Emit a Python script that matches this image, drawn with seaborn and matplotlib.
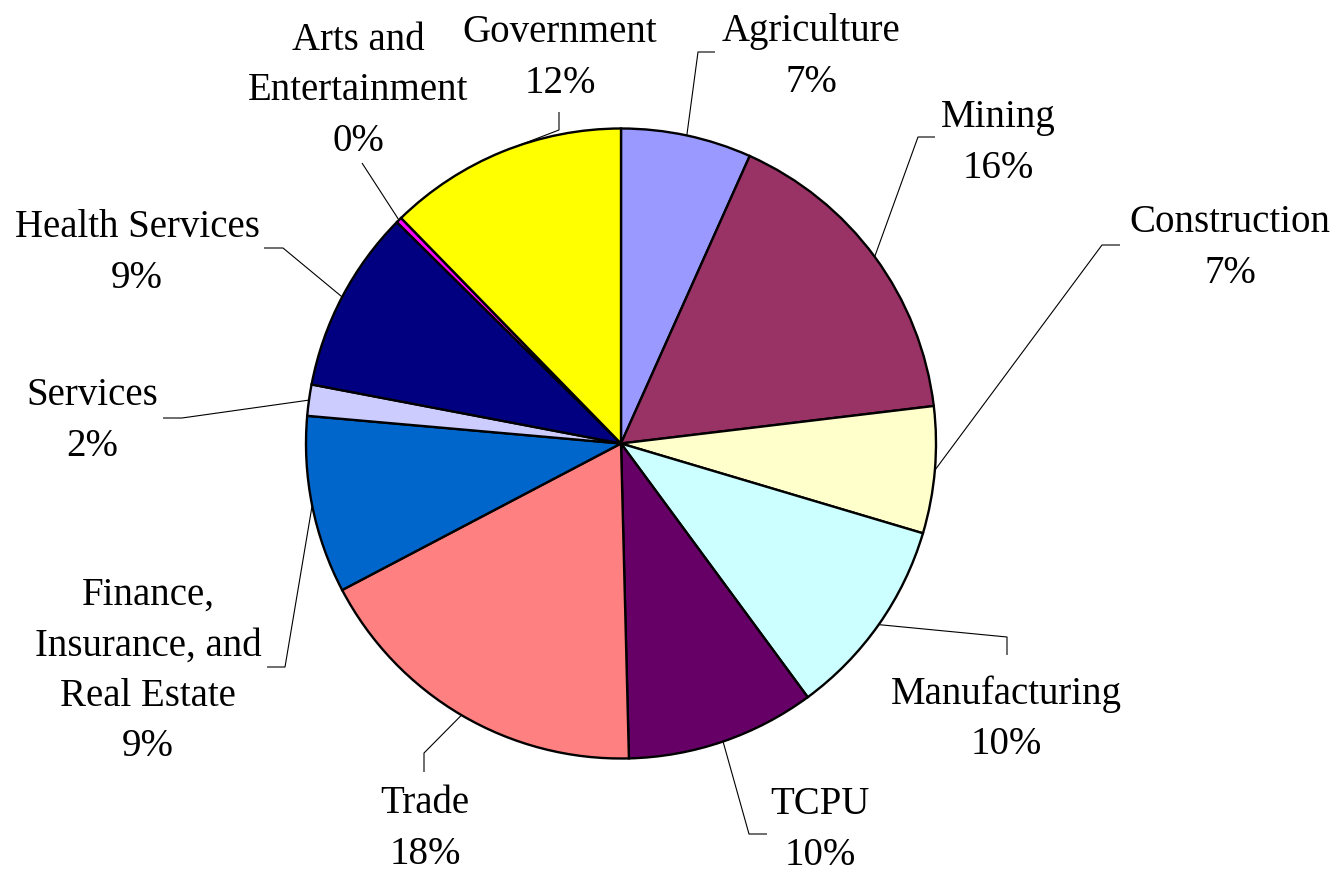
import numpy as np
import matplotlib
matplotlib.use("Agg")
import matplotlib.pyplot as plt
import seaborn as sns

# ---- data ----
categories = ["Agriculture", "Mining", "Construction", "Manufacturing", "TCPU",
              "Trade", "Finance,\nInsurance, and\nReal Estate", "Services",
              "Health Services", "Arts and\nEntertainment", "Government"]
shares = [6.7, 16.4, 6.5, 10.3, 9.7, 17.7, 9.1, 1.6, 9.4, 0.3, 12.3]
slice_colors = ["#9999FF", "#993366", "#FFFFCC", "#CCFFFF", "#660066",
                "#FF8080", "#0066CC", "#CCCCFF", "#000080", "#FF00FF", "#FFFF00"]

# ---- layout (pixel coordinates, top-left origin) ----
W, H = 1337, 874
CX, CY, R = 621, 443.5, 315
label_xy = [(811, 57), (998, 143), (1230, 248), (1006, 719), (820, 830),
            (425, 829), (148, 671), (92, 421), (137, 253), (358, 91), (560, 58)]
knee_pts = [[(715, 52), (698, 52)],
            [(935, 137), (918, 137)],
            [(1120, 245), (1102, 245)],
            [(1007, 655), (1007, 637)],
            [(767, 834), (749, 834)],
            [(424, 772), (424, 753)],
            [(267, 667), (285, 667)],
            [(163, 418), (182, 418)],
            [(264, 248), (283, 248)],
            [(362, 163)],
            [(559, 112), (559, 130)]]

sns.set_theme(style="white")
plt.rcParams['font.family'] = ['Liberation Serif', 'DejaVu Serif']

fig = plt.figure(figsize=(W / 100, H / 100), dpi=100)
ax = fig.add_axes([0, 0, 1, 1])
palette = sns.color_palette(slice_colors)

def fy(y):
    return H - y

wedges, _ = ax.pie(shares, colors=palette, startangle=90, counterclock=False,
                   center=(CX, fy(CY)), radius=R,
                   wedgeprops=dict(edgecolor="black", linewidth=1.7))
ax.set_xlim(0, W)
ax.set_ylim(0, H)
ax.set_aspect("equal")
ax.axis("off")

total = sum(shares)
cum = 0.0
for i, (name, v) in enumerate(zip(categories, shares)):
    mid = (cum + v / 2) / total * 360.0
    cum += v
    ex = CX + R * np.sin(np.radians(mid))
    ey = CY - R * np.cos(np.radians(mid))
    pts = knee_pts[i] + [(ex, ey)]
    ax.plot([p[0] for p in pts], [fy(p[1]) for p in pts], color="black", lw=0.8,
            solid_capstyle="butt", zorder=0.5)
    pct = int(v / total * 100 + 0.5)
    lx, ly = label_xy[i]
    ax.text(lx, fy(ly), f"{name}\n{pct}%", ha="center", va="center",
            fontsize=28, linespacing=1.48, color="black")

fig.savefig("out.png", dpi=100)
